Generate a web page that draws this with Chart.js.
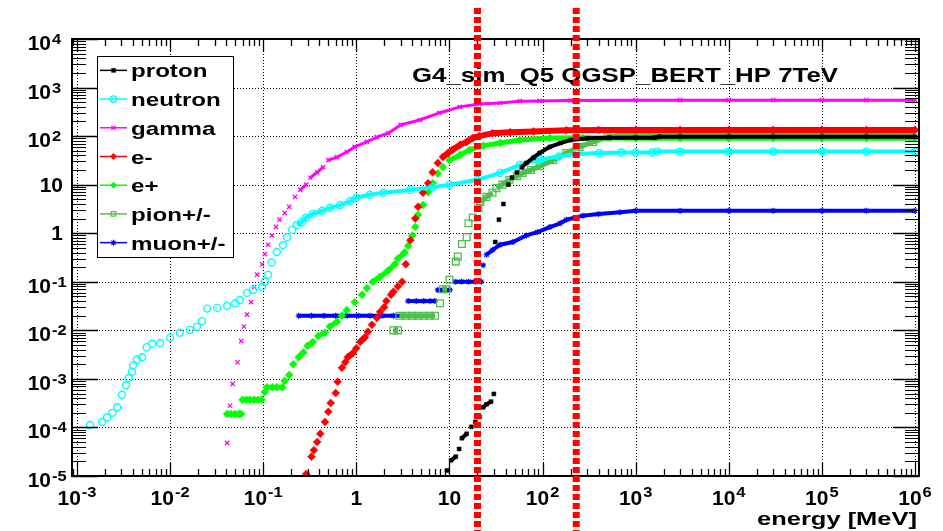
<!DOCTYPE html>
<html><head><meta charset="utf-8">
<script src="https://cdn.jsdelivr.net/npm/chart.js@4.4.1/dist/chart.umd.min.js"></script>
<style>html,body{margin:0;padding:0;background:#fff;overflow:hidden}canvas{display:block}</style>
</head><body>
<canvas id="c" width="943" height="531"></canvas>
<script>
// ---------------- data ----------------
const chartTitle = 'G4_sim_Q5 QGSP_BERT_HP 7TeV';
const xAxisTitle = 'energy [MeV]';
const seriesNames = ['proton', 'neutron', 'gamma', 'e-', 'e+', 'pion+/-', 'muon+/-'];
const xTickValues = [1e-3, 1e-2, 1e-1, 1, 10, 1e2, 1e3, 1e4, 1e5, 1e6];
const xTickLabels = [['10','-3'],['10','-2'],['10','-1'],['1',''],['10',''],['10','2'],['10','3'],['10','4'],['10','5'],['10','6']];
const yTickValues = [1e-5, 1e-4, 1e-3, 1e-2, 1e-1, 1, 10, 1e2, 1e3, 1e4];
const yTickLabels = [['10','-5'],['10','-4'],['10','-3'],['10','-2'],['10','-1'],['1',''],['10',''],['10','2'],['10','3'],['10','4']];
const cutEnergies = [20, 230];

const protonE = [9.4, 10.4, 11.7, 12.7, 13.6, 15.3, 17.2, 19, 21, 23, 25, 28, 30, 31, 34, 38, 43, 47, 53, 60, 67, 80, 93, 120, 155, 200, 300, 520, 1000, 1600, 1800, 3000, 1e4, 3e4, 1e5, 3e5, 1e6];
const protonN = [1.3e-5, 2.1e-5, 2.5e-5, 3.6e-5, 6e-5, 7.4e-5, 1.03e-4, 1.3e-4, 1.65e-4, 2.6e-4, 3.0e-4, 3.4e-4, 4.9e-4, 0.66, 1.9, 4, 10, 14, 18, 23, 28, 36, 45, 60, 72, 83, 90, 93, 93, 93, 97, 97, 97, 97, 97, 97, 97];

const neutronE = [1.38e-3, 1.86e-3, 2.1e-3, 2.4e-3, 2.7e-3, 3.04e-3, 3.36e-3, 3.6e-3, 3.9e-3, 4.0e-3, 4.4e-3, 5.0e-3, 5.6e-3, 6.4e-3, 7.8e-3, 1.0e-2, 1.27e-2, 1.63e-2, 1.94e-2, 2.2e-2, 2.5e-2, 3.2e-2, 4.1e-2, 5.0e-2, 5.6e-2, 6.7e-2, 7.8e-2, 0.097, 0.104, 0.113, 0.123, 0.14, 0.163, 0.18, 0.205, 0.23, 0.26, 0.29, 0.34, 0.43, 0.52, 0.67, 0.86, 1.0, 1.4, 1.95, 3.8, 6.6, 10, 20, 35, 57, 94, 150, 230, 410, 700, 1000, 1500, 1700, 3000, 1e4, 3e4, 1e5, 3e5, 1e6];
const neutronN = [1.12e-4, 1.3e-4, 1.6e-4, 2.0e-4, 2.6e-4, 4.7e-4, 7.4e-4, 1.04e-3, 1.4e-3, 1.9e-3, 2.5e-3, 2.8e-3, 4.5e-3, 5.3e-3, 5.5e-3, 7.0e-3, 8.9e-3, 1.02e-2, 1.18e-2, 1.55e-2, 2.8e-2, 2.9e-2, 3.2e-2, 3.6e-2, 4.2e-2, 5.9e-2, 6.8e-2, 7.9e-2, 0.1, 0.14, 0.25, 0.41, 0.57, 0.83, 1.17, 1.48, 1.7, 2.1, 2.5, 2.9, 3.3, 3.8, 4.6, 5.4, 6.2, 6.8, 7.8, 8.9, 10, 12.6, 17.5, 25.6, 33, 38, 43, 45, 46, 46, 46, 48, 48, 48, 48, 48, 48, 48];

const gammaE = [0.041, 0.044, 0.047, 0.053, 0.058, 0.062, 0.067, 0.074, 0.08, 0.086, 0.097, 0.104, 0.113, 0.124, 0.137, 0.15, 0.17, 0.19, 0.22, 0.25, 0.29, 0.32, 0.38, 0.44, 0.50, 0.62, 0.79, 0.96, 1.3, 1.66, 2.2, 3.0, 4.8, 7.8, 12.9, 21, 35, 57, 93, 200, 1000, 3000, 1e4, 3e4, 1e5, 3e5, 1e6];
const gammaN = [4.8e-5, 2.8e-4, 7.9e-4, 2.2e-3, 6e-3, 1.2e-2, 2.1e-2, 3.8e-2, 7.8e-2, 0.14, 0.23, 0.37, 0.58, 0.9, 1.35, 1.9, 2.6, 3.5, 5.6, 7.8, 10, 13.9, 18, 23, 32, 37, 47, 60, 76, 95, 115, 170, 215, 300, 400, 460, 480, 525, 530, 540, 550, 550, 550, 550, 550, 550, 550];

const electronE = [0.29, 0.33, 0.35, 0.38, 0.41, 0.46, 0.50, 0.53, 0.60, 0.63, 0.70, 0.76, 0.81, 0.92, 1.0, 1.1, 1.24, 1.33, 1.47, 1.66, 1.8, 1.99, 2.1, 2.36, 2.5, 2.8, 3.1, 3.4, 3.8, 4.3, 4.6, 5.2, 5.9, 6.6, 7.5, 8.5, 9.7, 10.9, 13, 15.3, 17.8, 21, 29, 45, 80, 180, 400, 1000, 3000, 1e4, 3e4, 1e5, 3e5, 1e6];
const electronN = [1.1e-5, 2.5e-5, 3.4e-5, 5e-5, 7.4e-5, 1.3e-4, 2.1e-4, 3.2e-4, 5.1e-4, 8.7e-4, 1.7e-3, 2.2e-3, 2.8e-3, 3.4e-3, 4.3e-3, 5.8e-3, 7.2e-3, 9.3e-3, 1.3e-2, 1.8e-2, 2.4e-2, 3.0e-2, 4.0e-2, 5.4e-2, 6.2e-2, 8.0e-2, 0.1, 0.23, 0.72, 2.0, 3.5, 6.8, 10.7, 18, 28, 37, 45, 53, 66, 76, 91, 100, 115, 120, 125, 132, 134, 134, 134, 134, 134, 134, 134, 134];

const positronE = [0.041, 0.045, 0.05, 0.055, 0.058, 0.060, 0.066, 0.072, 0.08, 0.088, 0.096, 0.104, 0.11, 0.125, 0.14, 0.16, 0.17, 0.19, 0.21, 0.24, 0.27, 0.30, 0.34, 0.39, 0.46, 0.52, 0.62, 0.70, 0.79, 0.96, 1.15, 1.3, 1.51, 1.79, 2.2, 2.6, 2.8, 3.3, 3.6, 4.0, 4.3, 4.6, 5.2, 5.9, 6.6, 7.5, 8.5, 10, 13, 16.5, 23, 35, 57, 120, 270, 1000, 3000, 1e4, 3e4, 1e5, 3e5, 1e6];
const positronN = [1.9e-4, 1.9e-4, 1.9e-4, 1.9e-4, 1.9e-4, 3.7e-4, 3.7e-4, 3.7e-4, 3.7e-4, 3.7e-4, 3.7e-4, 5.4e-4, 6.7e-4, 6.7e-4, 6.7e-4, 6.7e-4, 9.1e-4, 1.2e-3, 2.0e-3, 2.8e-3, 3.5e-3, 4.8e-3, 5.7e-3, 7.6e-3, 8.9e-3, 1.2e-2, 1.5e-2, 2.0e-2, 2.6e-2, 3.8e-2, 5.4e-2, 7.4e-2, 0.1, 0.126, 0.17, 0.23, 0.3, 0.40, 0.55, 0.9, 1.35, 2.4, 3.8, 7.0, 10.7, 17, 23, 32, 41, 52, 63, 72, 83, 91, 92, 90, 90, 90, 90, 90, 90, 90];

const pionE = [2.5, 2.8, 2.9, 3.4, 4.0, 4.6, 5.3, 6.1, 7.0, 7.9, 8.5, 9.3, 10, 11.7, 12.3, 13.6, 15.3, 16, 17.8, 20.5, 21.5, 25, 29, 32, 37, 44, 53, 61, 75, 93, 130, 180, 250, 350, 500, 700, 1500, 3000, 1e4, 3e4, 1e5, 3e5, 1e6];
const pionN = [1e-2, 1e-2, 2e-2, 2e-2, 2e-2, 2e-2, 2e-2, 2e-2, 2e-2, 3.6e-2, 7e-2, 7e-2, 0.11, 0.26, 0.33, 0.6, 0.83, 1.6, 2.1, 3.3, 4.4, 5.6, 6.8, 8.5, 10, 12.6, 15, 17.5, 20, 24, 32, 45, 60, 76, 95, 105, 112, 114, 114, 114, 114, 114, 114];

const muonE = [0.24, 0.33, 0.45, 0.6, 0.8, 1.05, 1.4, 1.9, 2.5, 3.2, 3.6, 4.4, 5.3, 6.2, 7.0, 7.5, 8.4, 9.3, 10.1, 11.5, 13.5, 16, 19, 22, 23, 25, 29, 35, 48, 67, 88, 120, 155, 180, 270, 400, 680, 1000, 3000, 1e4, 3e4, 1e5, 3e5, 1e6];
const muonN = [2e-2, 2e-2, 2e-2, 2e-2, 2e-2, 2e-2, 2e-2, 2e-2, 2e-2, 2e-2, 4e-2, 4e-2, 4e-2, 4e-2, 4e-2, 6.8e-2, 6.8e-2, 6.8e-2, 6.8e-2, 0.1, 0.1, 0.1, 0.1, 0.1, 0.22, 0.36, 0.45, 0.58, 0.66, 0.9, 1.05, 1.34, 1.6, 1.9, 2.3, 2.5, 2.7, 2.9, 2.9, 2.9, 2.9, 2.9, 2.9, 2.9];

// ---------------- styling ----------------
const FONT = "'Liberation Sans', Arial, Helvetica, sans-serif";
const styles = [
  {color: '#000000', fill: '#000000', pointStyle: 'rect',     radius: 2.8, bw: 0.5, band: 4, bandFrom: 0},
  {color: '#00ffff', fill: 'rgba(0,0,0,0)', pointStyle: 'circle', radius: 3.5, bw: 1.4, band: 4, bandFrom: 0.15},
  {color: '#ff00ff', fill: '#ff00ff', pointStyle: 'crossRot', radius: 3.0, bw: 1.3, band: 3, bandFrom: 0},
  {color: '#ff0000', fill: '#ff0000', pointStyle: 'rectRot',  radius: 4.0, bw: 0.5, band: 6, bandFrom: 0},
  {color: '#00ff00', fill: '#00ff00', pointStyle: 'rectRot',  radius: 4.0, bw: 0.5, band: 5, bandFrom: 0},
  {color: '#4cc24c', fill: 'rgba(0,0,0,0)', pointStyle: 'rect', radius: 4.8, bw: 1.3, band: 5, bandFrom: 0},
  {color: '#0000ff', fill: '#0000ff', pointStyle: 'star',     radius: 3.0, bw: 1.1, band: 4, bandFrom: 0}
];
const seriesE = [protonE, neutronE, gammaE, electronE, positronE, pionE, muonE];
const seriesN = [protonN, neutronN, gammaN, electronN, positronN, pionN, muonN];

const datasets = seriesNames.map((name, i) => {
  const st = styles[i];
  const data = seriesE[i].map((e, k) => ({x: e, y: seriesN[i][k]}));
  return {
    label: name,
    data: data,
    showLine: true,
    borderColor: st.color,
    borderWidth: st.band,
    backgroundColor: st.fill,
    pointStyle: st.pointStyle,
    pointRadius: st.radius,
    pointBorderWidth: st.bw,
    pointBorderColor: st.color,
    pointBackgroundColor: st.fill,
    tension: 0,
    borderCapStyle: 'butt',
    segment: {
      borderColor: ctx => {
        const p0 = ctx.p0, p1 = ctx.p1;
        const dx = Math.abs(p1.x - p0.x), dy = Math.abs(p1.y - p0.y);
        if (data[ctx.p0DataIndex].x < st.bandFrom) return 'rgba(0,0,0,0)';
        return (dy <= 0.8 * dx + 1) ? st.color : 'rgba(0,0,0,0)';
      }
    }
  };
});

// ---------------- drawing helpers ----------------
function drawText(ctx, s, x, y, size, align, sx) {
  ctx.save();
  ctx.font = 'bold ' + size + 'px ' + FONT;
  ctx.textAlign = 'left';
  ctx.textBaseline = 'alphabetic';
  const w = ctx.measureText(s).width * sx;
  const x0 = align === 'right' ? x - w : (align === 'center' ? x - w / 2 : x);
  ctx.translate(x0, y);
  ctx.scale(sx, 1);
  ctx.fillStyle = '#000';
  ctx.fillText(s, 0, 0);
  ctx.restore();
  return w;
}
function textWidth(ctx, s, size, sx) {
  ctx.save();
  ctx.font = 'bold ' + size + 'px ' + FONT;
  const w = ctx.measureText(s).width * sx;
  ctx.restore();
  return w;
}
function drawFit(ctx, s, x0, x1, y, size) {
  const w = textWidth(ctx, s, size, 1);
  drawText(ctx, s, x0, y, size, 'left', (x1 - x0) / w);
}
function drawMarker(ctx, st, x, y) {
  ctx.save();
  ctx.strokeStyle = st.color;
  ctx.fillStyle = st.fill;
  ctx.lineWidth = st.bw;
  const r = st.radius;
  ctx.beginPath();
  if (st.pointStyle === 'circle') {
    ctx.arc(x, y, r, 0, Math.PI * 2);
    ctx.fill(); ctx.stroke();
  } else if (st.pointStyle === 'rect') {
    const s = r * Math.SQRT1_2;
    ctx.rect(x - s, y - s, 2 * s, 2 * s);
    ctx.fill(); ctx.stroke();
  } else if (st.pointStyle === 'rectRot') {
    ctx.moveTo(x - r, y); ctx.lineTo(x, y - r); ctx.lineTo(x + r, y); ctx.lineTo(x, y + r); ctx.closePath();
    ctx.fill(); ctx.stroke();
  } else if (st.pointStyle === 'crossRot') {
    const s = r * Math.SQRT1_2;
    ctx.moveTo(x - s, y - s); ctx.lineTo(x + s, y + s);
    ctx.moveTo(x - s, y + s); ctx.lineTo(x + s, y - s);
    ctx.stroke();
  } else if (st.pointStyle === 'star') {
    const s = r * Math.SQRT1_2;
    ctx.moveTo(x - s, y - s); ctx.lineTo(x + s, y + s);
    ctx.moveTo(x - s, y + s); ctx.lineTo(x + s, y - s);
    ctx.moveTo(x - r, y); ctx.lineTo(x + r, y);
    ctx.moveTo(x, y - r); ctx.lineTo(x, y + r);
    ctx.stroke();
  }
  ctx.restore();
}
function minorValues(min, max) {
  const out = [];
  for (let d = Math.floor(Math.log10(min)) - 1; d <= Math.ceil(Math.log10(max)); d++) {
    for (let m = 2; m <= 9; m++) {
      const v = m * Math.pow(10, d);
      if (v > min && v < max) out.push(v);
    }
  }
  return out;
}

const rootFrame = {
  id: 'rootFrame',
  beforeDatasetsDraw(chart) {
    const ctx = chart.ctx, a = chart.chartArea;
    const xs = chart.scales.x, ys = chart.scales.y;
    ctx.save();
    ctx.strokeStyle = '#000';
    ctx.lineWidth = 1;
    ctx.setLineDash([1, 2]);
    xTickValues.forEach(v => {
      const x = Math.round(xs.getPixelForValue(v)) + 0.5;
      ctx.beginPath(); ctx.moveTo(x, a.top); ctx.lineTo(x, a.bottom); ctx.stroke();
    });
    yTickValues.forEach(v => {
      const y = Math.round(ys.getPixelForValue(v)) + 0.5;
      if (y < a.top + 2 || y > a.bottom - 2) return;
      ctx.beginPath(); ctx.moveTo(a.left, y); ctx.lineTo(a.right, y); ctx.stroke();
    });
    ctx.restore();
  },
  afterDatasetsDraw(chart) {
    const ctx = chart.ctx, a = chart.chartArea;
    const xs = chart.scales.x, ys = chart.scales.y;
    ctx.save();
    ctx.strokeStyle = '#000';
    ctx.setLineDash([]);
    // frame
    ctx.lineWidth = 2;
    ctx.strokeRect(a.left, a.top, a.right - a.left, a.bottom - a.top);
    // x ticks (bottom & top)
    ctx.lineWidth = 1.3;
    const xmin = xs.min, xmax = xs.max;
    xTickValues.forEach(v => {
      const x = Math.round(xs.getPixelForValue(v)) + 0.5;
      ctx.beginPath();
      ctx.moveTo(x, a.bottom); ctx.lineTo(x, a.bottom - 13);
      ctx.moveTo(x, a.top); ctx.lineTo(x, a.top + 13);
      ctx.stroke();
    });
    minorValues(xmin, xmax).forEach(v => {
      const x = Math.round(xs.getPixelForValue(v)) + 0.5;
      ctx.beginPath();
      ctx.moveTo(x, a.bottom); ctx.lineTo(x, a.bottom - 7);
      ctx.moveTo(x, a.top); ctx.lineTo(x, a.top + 7);
      ctx.stroke();
    });
    // y ticks (left & right)
    yTickValues.forEach(v => {
      const y = Math.round(ys.getPixelForValue(v)) + 0.5;
      ctx.beginPath();
      ctx.moveTo(a.left, y); ctx.lineTo(a.left + 26, y);
      ctx.moveTo(a.right, y); ctx.lineTo(a.right - 26, y);
      ctx.stroke();
    });
    ctx.lineWidth = 1;
    minorValues(ys.min, ys.max).forEach(v => {
      const y = Math.round(ys.getPixelForValue(v)) + 0.5;
      ctx.beginPath();
      ctx.moveTo(a.left, y); ctx.lineTo(a.left + 14, y);
      ctx.moveTo(a.right, y); ctx.lineTo(a.right - 14, y);
      ctx.stroke();
    });
    ctx.restore();

    // x tick labels
    xTickValues.forEach((v, i) => {
      const x = xs.getPixelForValue(v);
      const [b, e] = xTickLabels[i];
      const wb = textWidth(ctx, b, 20, 1.05);
      const we = e ? textWidth(ctx, e, 15, 1.1) + 1 : 0;
      const x0 = x - (wb + we) / 2;
      drawText(ctx, b, x0, 505, 20, 'left', 1.05);
      if (e) drawText(ctx, e, x0 + wb + 1, 497, 15, 'left', 1.1);
    });
    // y tick labels
    yTickValues.forEach((v, i) => {
      const y = ys.getPixelForValue(v);
      const [b, e] = yTickLabels[i];
      if (e) {
        drawText(ctx, b, 51, y + 11, 20, 'right', 1.05);
        drawText(ctx, e, 52, y + 5, 15, 'left', 1.1);
      } else {
        drawText(ctx, b, 63, y + 7, 20, 'right', 1.05);
      }
    });

    // title and axis title
    drawFit(ctx, chartTitle, 412, 838, 82, 20);
    drawFit(ctx, xAxisTitle, 757, 917, 525, 19);

    // legend
    const lx0 = 97, ly0 = 56, lx1 = 233, ly1 = 257;
    ctx.save();
    ctx.fillStyle = '#fff';
    ctx.fillRect(lx0, ly0, lx1 - lx0, ly1 - ly0);
    ctx.strokeStyle = '#000';
    ctx.lineWidth = 1;
    ctx.strokeRect(lx0 + 0.5, ly0 + 0.5, lx1 - lx0, ly1 - ly0);
    ctx.restore();
    const rowH = (ly1 - ly0) / seriesNames.length;
    seriesNames.forEach((name, i) => {
      const cy = ly0 + (i + 0.5) * rowH;
      const st = styles[i];
      ctx.save();
      ctx.strokeStyle = st.color;
      ctx.lineWidth = 1.5;
      ctx.beginPath(); ctx.moveTo(100, cy); ctx.lineTo(127, cy); ctx.stroke();
      ctx.restore();
      drawMarker(ctx, Object.assign({}, st, {radius: Math.min(st.radius, 3.2)}), 113.5, cy);
      drawText(ctx, name, 131, cy + 7, 19, 'left', 1.27);
    });
  },
  afterDraw(chart) {
    const ctx = chart.ctx;
    const xs = chart.scales.x;
    ctx.save();
    ctx.strokeStyle = '#ff0000';
    ctx.lineWidth = 7;
    ctx.setLineDash([6, 3]);
    cutEnergies.forEach(e => {
      const x = xs.getPixelForValue(e);
      ctx.beginPath(); ctx.moveTo(x, 8); ctx.lineTo(x, 531); ctx.stroke();
    });
    ctx.restore();
  }
};

new Chart(document.getElementById('c'), {
  type: 'scatter',
  data: {datasets: datasets},
  options: {
    responsive: false,
    devicePixelRatio: 1,
    animation: false,
    layout: {padding: {left: 72, right: 24, top: 39, bottom: 55}},
    scales: {
      x: {type: 'logarithmic', min: Math.pow(10, -3.0537), max: Math.pow(10, 6.043), display: false},
      y: {type: 'logarithmic', min: 1e-5, max: 1e4, display: false}
    },
    plugins: {legend: {display: false}, tooltip: {enabled: false}}
  },
  plugins: [rootFrame]
});
</script>
</body></html>
